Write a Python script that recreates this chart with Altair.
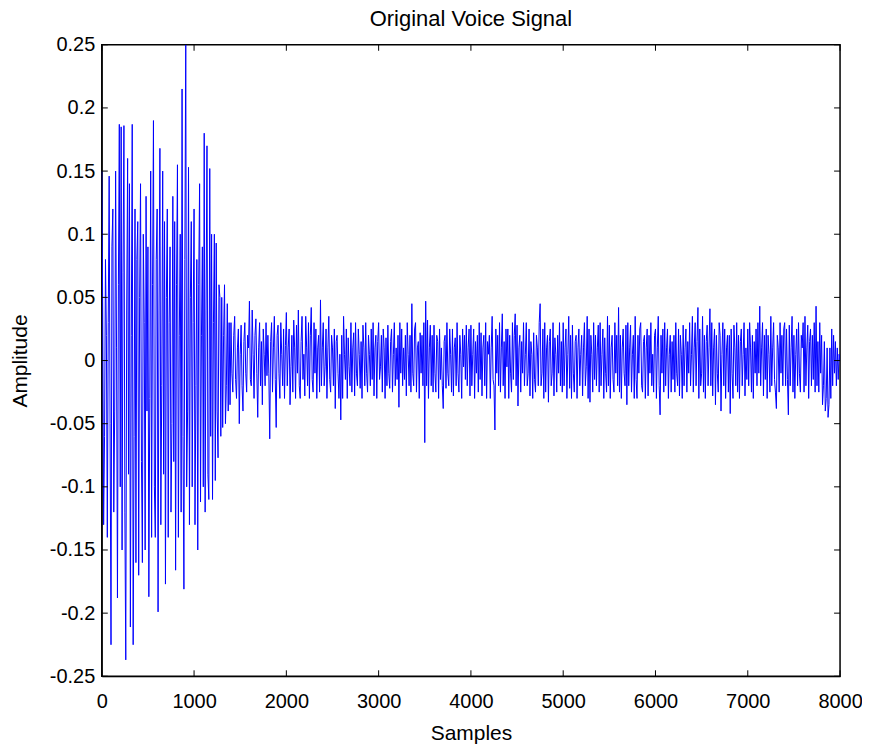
import altair as alt
import pandas as pd

step = 10
seg_speech = [
    0.15, 0.04, -0.13, -0.06, 0.08, 0.02, -0.14, 0.03, 0.146, -0.05,
    -0.225, 0.09, 0.12, -0.12, -0.04, 0.15, 0.01, -0.188, 0.06, 0.187,
    -0.10, 0.185, -0.15, 0.07, 0.186, -0.12, -0.237, 0.04, 0.16, -0.09,
    0.14, -0.211, 0.02, 0.187, -0.225, -0.06, 0.12, -0.16, 0.08, 0.11,
    -0.17, 0.05, 0.14, -0.08, -0.16, 0.10, 0.03, -0.15, 0.13, -0.04,
    0.09, -0.187, -0.03, 0.15, -0.14, 0.06, 0.19, -0.10, -0.14, 0.08,
    0.12, -0.199, 0.04, 0.168, -0.13, -0.02, 0.15, -0.09, 0.11, -0.177,
    0.05, 0.12, -0.14, 0.03, 0.09, -0.12, -0.05, 0.13, -0.08, 0.11,
    -0.166, 0.06, 0.155, -0.14, 0.02, 0.10, -0.12, 0.215, -0.06, -0.181,
    0.08, 0.25, -0.10, -0.04, 0.153, -0.13, 0.05, 0.11, -0.10, 0.03,
    0.12, -0.13, -0.02, 0.08, -0.15, 0.06, 0.14, -0.112, 0.02, 0.09,
    -0.10, 0.18, -0.12, 0.04, 0.17, -0.09, -0.11, 0.152, -0.06, 0.10,
    -0.11, 0.03, 0.10, -0.095, 0.093, -0.04, -0.077, 0.06, 0.05, -0.06,
    0.05, -0.053, 0.02, 0.06, -0.05, -0.02, 0.045, -0.04, 0.03, -0.035,
]
seg_noise = [
    0.03, -0.01, -0.025, 0.02, 0.035, -0.015, -0.03, 0.01, 0.025, -0.05,
    0.005, 0.028, -0.02, -0.04, 0.015, 0.03, -0.01, -0.025, 0.02, 0.01,
    0.047, -0.015, -0.02, 0.04, 0.005, -0.03, 0.02, 0.033, -0.01, -0.045,
    0.01, 0.03, -0.02, 0.015, -0.035, 0.025, 0.005, -0.02, 0.03, -0.012,
    0.02, -0.01, -0.062, 0.015, 0.03, -0.025, 0.01, 0.035, -0.015, -0.053,
    0.02, 0.028, -0.01, -0.03, 0.03, 0.005, -0.02, 0.025, -0.03, 0.012,
    0.038, -0.02, 0.01, 0.025, -0.035, -0.005, 0.02, -0.025, 0.032, 0.01,
    -0.03, 0.028, -0.01, 0.04, -0.02, -0.03, 0.015, 0.035, -0.015, 0.005,
    -0.028, 0.035, 0.01, -0.02, 0.03, -0.03, 0.02, 0.042, -0.015, -0.025,
    0.03, -0.01, 0.025, -0.03, 0.01, 0.02, -0.025, 0.048, -0.02, 0.01,
    0.03, -0.02, -0.005, 0.025, -0.03, 0.01, 0.035, -0.015, -0.025, 0.02,
    0.01, -0.02, 0.025, -0.038, 0.015, 0.02, -0.01, -0.03, 0.005, -0.047,
    0.02, -0.03, 0.035, 0.005, -0.015, 0.025, -0.03, 0.018, -0.005, -0.02,
    0.03, -0.025, 0.01, 0.022, -0.028, 0.03, -0.01, -0.02, 0.025, 0.005,
    -0.022, 0.015, -0.03, 0.028, 0.01, -0.02, 0.03, -0.01, -0.025, 0.02,
    0.005, -0.02, 0.025, -0.015, 0.03, -0.028, 0.01, 0.02, -0.03, 0.015,
    0.03, -0.015, -0.005, 0.02, -0.025, 0.025, 0.01, -0.03, 0.018, -0.02,
    0.028, -0.01, -0.022, 0.015, 0.025, -0.025, 0.005, 0.03, -0.02, 0.01,
    -0.015, 0.02, -0.037, 0.03, -0.01, 0.025, -0.02, 0.01, -0.015, 0.02,
    -0.028, 0.03, 0.005, -0.02, 0.02, -0.025, 0.045, -0.01, -0.02, 0.025,
    0.03, -0.025, 0.01, 0.015, -0.03, 0.022, -0.01, 0.02, -0.02, 0.03,
    -0.065, 0.047, -0.02, 0.032, -0.03, 0.01, 0.028, -0.02, 0.02, -0.025,
    0.028, -0.01, -0.025, 0.02, 0.015, -0.03, 0.025, -0.015, 0.01, -0.02,
    -0.038, 0.015, 0.02, -0.022, 0.03, -0.01, -0.02, 0.025, 0.005, -0.025,
    0.025, -0.028, 0.01, 0.018, -0.02, 0.03, -0.01, -0.025, 0.02, 0.005,
    -0.03, 0.025, -0.005, 0.02, -0.015, 0.028, -0.02, 0.01, 0.025, -0.028,
    0.028, -0.02, 0.005, 0.025, -0.03, 0.015, -0.01, 0.02, -0.025, 0.03,
    -0.015, 0.022, -0.028, 0.01, 0.02, -0.02, 0.03, -0.03, 0.015, 0.005,
    0.02, -0.03, 0.01, 0.035, -0.015, -0.02, -0.055, 0.025, -0.01, 0.02,
    -0.02, 0.03, -0.025, 0.01, 0.037, -0.02, 0.015, -0.03, 0.025, -0.005,
    0.025, -0.03, 0.02, -0.01, -0.025, 0.03, -0.015, 0.02, 0.037, -0.02,
    0.028, -0.036, 0.01, 0.02, -0.025, 0.015, -0.01, 0.03, -0.02, 0.005,
    0.03, -0.02, -0.01, 0.025, -0.028, 0.015, 0.005, -0.03, 0.022, -0.015,
    -0.025, 0.02, 0.01, -0.02, 0.03, 0.045, -0.02, -0.01, 0.025, -0.03,
    0.03, -0.025, 0.01, 0.02, -0.033, 0.015, 0.025, -0.02, -0.01, 0.03,
    -0.028, 0.018, 0.005, -0.025, 0.02, -0.01, 0.03, -0.02, 0.015, -0.025,
    0.03, -0.02, 0.01, 0.025, -0.03, 0.005, 0.035, -0.022, 0.02, -0.03,
    0.028, -0.01, -0.025, 0.015, 0.02, -0.03, 0.01, 0.025, -0.02, 0.005,
    0.02, -0.028, 0.01, 0.03, -0.02, -0.005, 0.035, -0.03, 0.025, -0.033,
    0.02, 0.005, -0.025, 0.03, -0.015, 0.02, -0.02, 0.01, 0.028, -0.025,
    0.03, -0.02, 0.005, 0.025, -0.03, 0.018, -0.01, -0.025, 0.035, -0.02,
    0.028, -0.03, 0.01, 0.02, -0.015, -0.025, 0.03, -0.01, 0.02, -0.02,
    0.042, -0.025, 0.02, -0.03, 0.01, 0.025, -0.01, -0.02, 0.028, -0.035,
    0.03, -0.02, 0.01, 0.028, -0.025, 0.005, 0.02, -0.03, 0.035, -0.015,
    -0.03, 0.02, -0.01, 0.025, 0.03, -0.02, -0.025, 0.015, 0.02, -0.03,
    0.01, 0.025, -0.028, 0.02, -0.01, 0.03, -0.02, 0.005, -0.025, 0.02,
    0.025, -0.03, 0.01, 0.035, -0.02, -0.043, 0.02, -0.01, 0.025, -0.025,
    0.03, -0.02, 0.01, 0.025, -0.03, 0.005, 0.02, -0.025, 0.015, -0.015,
    0.02, -0.025, 0.03, -0.01, -0.02, 0.025, -0.028, 0.02, 0.005, -0.03,
    0.028, -0.02, 0.01, 0.025, -0.025, 0.015, -0.01, 0.03, -0.02, 0.005,
    0.035, -0.025, 0.01, 0.03, -0.02, 0.015, 0.042, -0.03, 0.025, -0.02,
    -0.01, 0.035, -0.025, 0.02, -0.03, 0.015, 0.028, -0.02, 0.01, 0.041,
    -0.02, 0.03, -0.028, 0.01, 0.025, -0.035, 0.02, -0.01, -0.025, 0.03,
    0.02, -0.04, 0.005, 0.03, -0.02, 0.025, -0.03, 0.01, 0.02, -0.025,
    0.02, -0.042, 0.025, -0.01, -0.03, 0.028, 0.01, -0.02, 0.03, -0.025,
    0.02, -0.03, 0.015, 0.025, -0.02, 0.005, 0.03, -0.028, 0.01, -0.015,
    0.025, -0.02, 0.03, 0.01, -0.025, 0.02, -0.03, 0.015, -0.01, 0.025,
    -0.02, 0.03, -0.01, 0.043, -0.02, 0.01, 0.03, -0.028, 0.02, -0.015,
    0.025, -0.03, 0.02, 0.005, -0.025, 0.035, -0.02, 0.01, 0.03, -0.015,
    -0.025, -0.038, 0.02, 0.01, -0.025, 0.03, -0.01, 0.02, -0.02, 0.025,
    0.03, -0.02, 0.025, -0.015, -0.043, 0.028, -0.02, 0.01, 0.035, -0.025,
    0.02, -0.03, 0.005, 0.025, -0.02, 0.03, -0.01, -0.025, 0.02, 0.01,
    0.03, -0.025, 0.035, -0.02, 0.01, 0.028, -0.03, 0.015, 0.025, -0.02,
    0.02, -0.015, 0.03, -0.025, 0.043, -0.02, 0.015, -0.025, 0.03, -0.01,
    0.02, -0.035, -0.02, 0.015, -0.04, -0.03, 0.01, -0.045, -0.035, 0.01,
    -0.03, 0.025, -0.02, 0.02, -0.01, 0.015, -0.02, 0.01, -0.015, 0.005,
    0.0,
]
amplitude = seg_speech + seg_noise
samples = [i * step for i in range(len(amplitude))]

x_ticks = [0, 1000, 2000, 3000, 4000, 5000, 6000, 7000, 8000]
y_ticks = [-0.25, -0.2, -0.15, -0.1, -0.05, 0, 0.05, 0.1, 0.15, 0.2, 0.25]

W, H = 740, 633
FONT = "Liberation Sans"

df = pd.DataFrame({"Samples": samples, "Amplitude": amplitude})
xt = pd.DataFrame({"v": x_ticks})
yt = pd.DataFrame({"v": y_ticks})

xscale = alt.Scale(domain=[0, 8000], nice=False)
yscale = alt.Scale(domain=[-0.25, 0.25], nice=False)

line = alt.Chart(df).mark_line(color="#0000FF", strokeWidth=1, clip=True).encode(
    x=alt.X("Samples:Q", scale=xscale,
            axis=alt.Axis(values=x_ticks, title="Samples", format="d", ticks=False,
                          grid=False, labelFlush=False, labelPadding=15,
                          labelFontSize=20, titleFontSize=21, titlePadding=11)),
    y=alt.Y("Amplitude:Q", scale=yscale,
            axis=alt.Axis(values=y_ticks, title="Amplitude", ticks=False, grid=False,
                          labelFlush=False,
                          labelExpr="replace(format(datum.value, '~g'), '\u2212', '-')",
                          labelPadding=7, labelFontSize=20, titleFontSize=21,
                          titlePadding=19)),
)

tick_len = 6
xb = alt.Chart(xt).mark_rule(color="black", strokeWidth=1).encode(
    x=alt.X("v:Q", scale=xscale), y=alt.value(H), y2=alt.value(H - tick_len))
xtop = alt.Chart(xt).mark_rule(color="black", strokeWidth=1).encode(
    x=alt.X("v:Q", scale=xscale), y=alt.value(0), y2=alt.value(tick_len))
yl = alt.Chart(yt).mark_rule(color="black", strokeWidth=1).encode(
    y=alt.Y("v:Q", scale=yscale), x=alt.value(0), x2=alt.value(tick_len))
yr = alt.Chart(yt).mark_rule(color="black", strokeWidth=1).encode(
    y=alt.Y("v:Q", scale=yscale), x=alt.value(W), x2=alt.value(W - tick_len))

chart = alt.layer(line, xb, xtop, yl, yr).properties(
    width=W, height=H,
    background="white",
    title=alt.TitleParams("Original Voice Signal", frame="group"),
    padding={"left": 94, "top": 36, "right": 22, "bottom": 68},
    autosize=alt.AutoSizeParams(type="none"),
).configure_view(stroke="black", strokeWidth=1.5).configure_axis(
    domainColor="black", labelColor="black", titleColor="black",
    labelFont=FONT, titleFont=FONT, titleFontWeight="normal",
).configure_title(
    font=FONT, fontSize=22, fontWeight="normal", color="black", offset=0,
    anchor="middle",
)

chart.save("out.html", embed_options={"renderer": "svg", "actions": False})
